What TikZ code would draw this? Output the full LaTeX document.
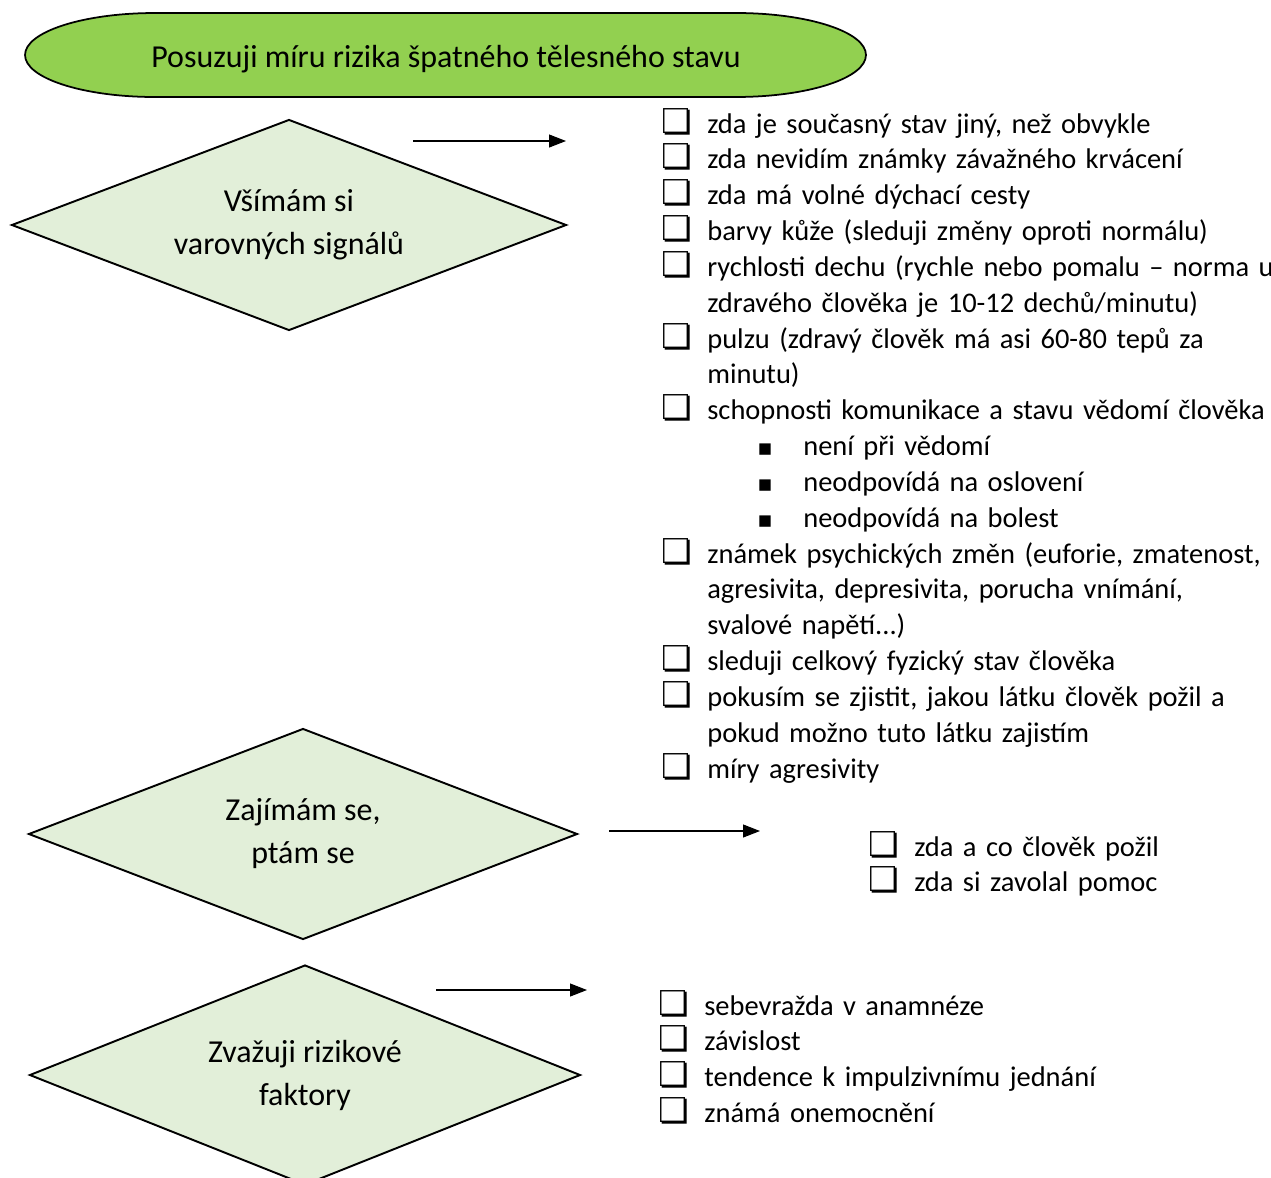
\documentclass[tikz,border=0pt]{standalone}
\usepackage{fontspec}
\setmainfont{Carlito}
\newfontfamily\boxfont{DejaVu Sans}
\usetikzlibrary{shapes.geometric,arrows.meta}

\definecolor{headgreen}{HTML}{92D050}
\definecolor{palegreen}{HTML}{E2EFD9}
\newlength{\hangw}\setlength{\hangw}{0.92cm}
\newcommand{\chk}[1]{\hangindent=\hangw\hangafter=1\makebox[\hangw][l]{\boxfont\fontsize{19.5}{19.5}\selectfont ❏}#1\par}
\newcommand{\subchk}[1]{\hspace*{1.92cm}\makebox[0.92cm][l]{\boxfont\fontsize{13}{13}\selectfont ▪}#1\par}

\tikzset{
  bigtxt/.style={font=\fontsize{18.2}{24.5}\selectfont},
  head/.style={bigtxt, minimum width=16.82cm, minimum height=1.68cm, inner sep=0pt},
  choice/.style={bigtxt, diamond, aspect=2.6, draw, line width=1.1pt, fill=palegreen, align=center, minimum width=11.1cm, minimum height=4.22cm, inner sep=0pt},
  checks/.style={font=\fontsize{16.2}{20.4}\selectfont, anchor=base west, inner sep=0pt, text width=14cm, align=left},
  pointer/.style={-{Triangle[length=0.34cm,width=0.26cm]}, line width=0.6pt}
}

\begin{document}
\begin{tikzpicture}[x=0.02cm,y=-0.02cm]
  \useasboundingbox (0,0) rectangle (1271,1177);

  \filldraw[fill=headgreen, line width=1pt] (155,13) -- (736,13)
    arc[start angle=90, end angle=-90, x radius=2.6cm, y radius=0.84cm] -- (155,97)
    arc[start angle=270, end angle=90, x radius=2.6cm, y radius=0.84cm] -- cycle;
  \node[head] (rate) at (446,59) {Posuzuji míru rizika špatného tělesného stavu};

  \node[choice] (notice) at (289,225) {Všímám si\\varovných signálů};
  \node[choice, minimum width=10.98cm] (ask) at (303,834) {Zajímám se,\\ptám se};
  \node[choice, minimum width=11.02cm, minimum height=4.4cm] (weigh) at (305,1075) {Zvažuji rizikové\\faktory};

  \coordinate (noticeA) at (413,141);
  \coordinate (noticeB) at (566,141);
  \coordinate (askA) at (609,831);
  \coordinate (askB) at (760,831);
  \coordinate (weighA) at (436,990);
  \coordinate (weighB) at (587,990);
  \draw[pointer] (noticeA) -- (noticeB);
  \draw[pointer] (askA) -- (askB);
  \draw[pointer] (weighA) -- (weighB);

  \node[checks] (signs) at (661,133) {%
    \chk{zda je současný stav jiný, než obvykle}
    \chk{zda nevidím známky závažného krvácení}
    \chk{zda má volné dýchací cesty}
    \chk{barvy kůže (sleduji změny oproti normálu)}
    \chk{rychlosti dechu (rychle nebo pomalu – norma u\newline zdravého člověka je 10-12 dechů/minutu)}
    \chk{pulzu (zdravý člověk má asi 60-80 tepů za\newline minutu)}
    \chk{schopnosti komunikace a stavu vědomí člověka}
    \subchk{není při vědomí}
    \subchk{neodpovídá na oslovení}
    \subchk{neodpovídá na bolest}
    \chk{známek psychických změn (euforie, zmatenost,\newline agresivita, depresivita, porucha vnímání,\newline svalové napětí...)}
    \chk{sleduji celkový fyzický stav člověka}
    \chk{pokusím se zjistit, jakou látku člověk požil a\newline pokud možno tuto látku zajistím}
    \chk{míry agresivity}};

  \node[checks] (questions) at (868,856) {%
    \chk{zda a co člověk požil}
    \chk{zda si zavolal pomoc}};

  \node[checks] (factors) at (658,1015) {%
    \chk{sebevražda v anamnéze}
    \chk{závislost}
    \chk{tendence k impulzivnímu jednání}
    \chk{známá onemocnění}};
\end{tikzpicture}
\end{document}
